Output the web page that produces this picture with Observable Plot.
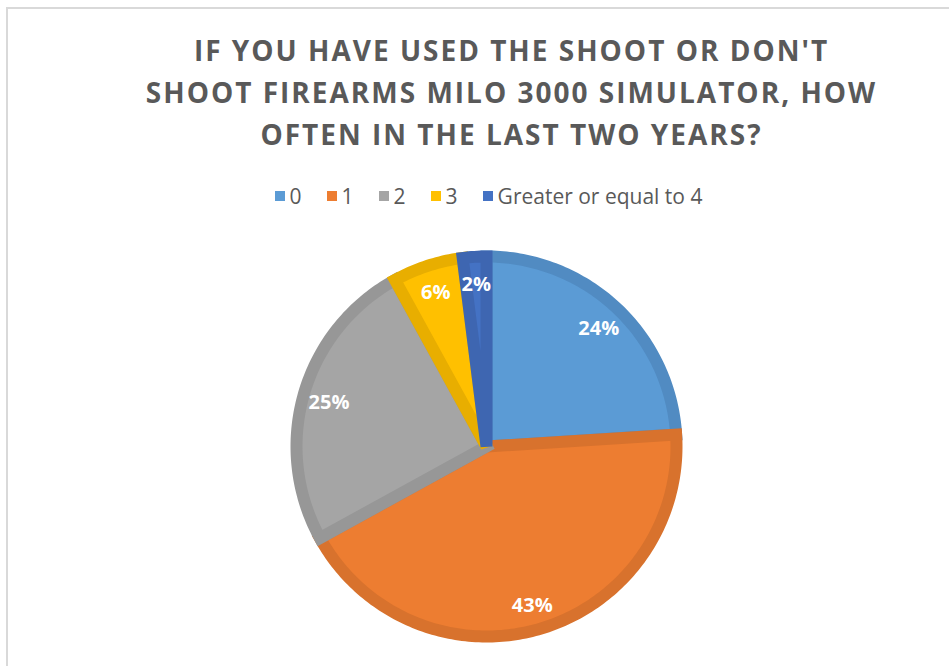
<!DOCTYPE html>
<html>
<head>
<meta charset="utf-8">
<script src="https://cdn.jsdelivr.net/npm/d3@7"></script>
<script src="https://cdn.jsdelivr.net/npm/@observablehq/plot@0.6"></script>
<style>
  html, body { margin: 0; padding: 0; background: #fff; }
  #chart { position: relative; width: 949px; height: 666px; overflow: hidden; background: #fff; }
  #frame { position: absolute; left: 6px; top: 7px; width: 1000px; height: 800px;
           border-left: 2px solid #d9d9d9; border-top: 2px solid #d9d9d9; }
  #title { position: absolute; left: 72px; width: 879px; top: 29px; text-align: center;
           font-family: "Open Sans", sans-serif; font-weight: bold; font-size: 28px;
           line-height: 42px; color: #595959; letter-spacing: 2px; }
  #legend { position: absolute; left: 0; width: 977px; top: 182px; display: flex;
            justify-content: center; gap: 25px; font-family: "Open Sans", sans-serif;
            font-size: 21px; color: #595959; line-height: 28px; }
  .item { display: flex; align-items: center; }
  .sw { width: 10px; height: 10px; margin-right: 5px; }
  #pie { position: absolute; left: 276px; top: 236px; }
</style>
</head>
<body>
<div id="chart">
  <div id="frame"></div>
  <div id="title"></div>
  <div id="legend"></div>
  <div id="pie"></div>
</div>
<script>
const categories = ["0", "1", "2", "3", "Greater or equal to 4"];
const percents = [24, 43, 25, 6, 2];
const fills = ["#5B9BD5", "#ED7D31", "#A5A5A5", "#FFC000", "#4472C4"];
const strokes = ["#518BC2", "#D8722D", "#979797", "#E8AE00", "#3E66B1"];
const titleLines = [
  "IF YOU HAVE USED THE SHOOT OR DON'T",
  "SHOOT FIREARMS MILO 3000 SIMULATOR, HOW",
  "OFTEN IN THE LAST TWO YEARS?"
];

document.getElementById("title").innerHTML = titleLines.map(t => `<div>${t}</div>`).join("");
document.getElementById("legend").innerHTML = categories.map((c, i) =>
  `<div class="item"><span class="sw" style="background:${fills[i]}"></span><span>${c}</span></div>`).join("");

const R = 190;
const arcs = d3.pie().sort(null).value(d => d)(percents);
const slices = arcs.map((a, i) => {
  const pts = [{x: 0, y: 0, key: categories[i]}];
  const n = Math.max(2, Math.ceil((a.endAngle - a.startAngle) / (Math.PI / 180)));
  for (let k = 0; k <= n; k++) {
    const t = a.startAngle + (a.endAngle - a.startAngle) * k / n;
    pts.push({x: R * Math.sin(t), y: R * Math.cos(t), key: categories[i]});
  }
  return pts;
});
const labels = arcs.map((a, i) => {
  const m = (a.startAngle + a.endAngle) / 2;
  const r = 164;
  return {x: r * Math.sin(m), y: r * Math.cos(m) - 2, text: percents[i] + "%"};
});

const plot = Plot.plot({
  width: 420, height: 420, margin: 0,
  x: {domain: [-210, 210]}, y: {domain: [-210, 210]},
  axis: null,
  style: {background: "transparent", overflow: "visible"},
  marks: [
    ...slices.map((pts, i) => Plot.line(pts, {
      x: "x", y: "y", curve: "linear-closed",
      fill: fills[i], stroke: strokes[i], strokeWidth: 12,
      strokeLinejoin: "miter", strokeMiterlimit: 4
    })),
    Plot.text(labels, {x: "x", y: "y", text: "text", fill: "white",
      fontWeight: "bold", fontSize: 20, fontFamily: "Open Sans"})
  ]
});
document.getElementById("pie").appendChild(plot);
</script>
</body>
</html>
